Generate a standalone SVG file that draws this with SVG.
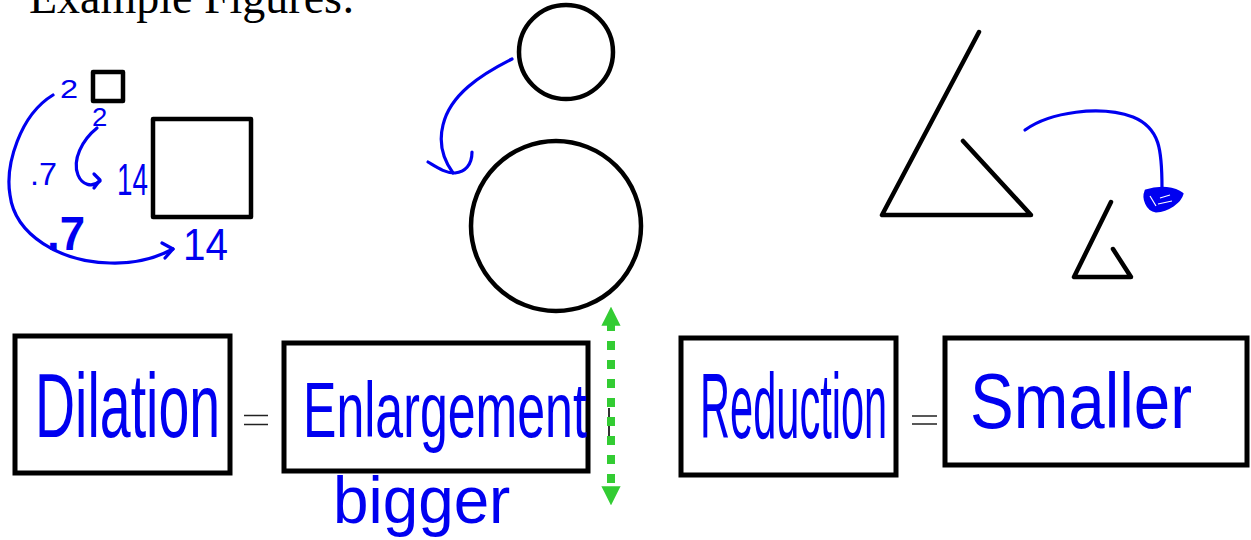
<svg xmlns="http://www.w3.org/2000/svg" width="1251" height="540" viewBox="0 0 1251 540">
<style>
.shape{fill:none;stroke:#000;stroke-width:4.5;stroke-linecap:round;stroke-linejoin:round}
.box{fill:#fff;stroke:#000;stroke-width:5}
.ink{fill:none;stroke:#0000f0;stroke-width:3.2;stroke-linecap:round;stroke-linejoin:round}
.hand{font-family:"Liberation Sans","DejaVu Sans",sans-serif;fill:#0000f0}
.eq{fill:none;stroke:#222;stroke-width:1.6}
</style>
<defs>
<marker id="gh" viewBox="0 0 10 10" refX="2" refY="5" markerWidth="2.4" markerHeight="2.4" orient="auto-start-reverse" markerUnits="strokeWidth">
<path d="M0,0 L10,5 L0,10 Z" fill="#33cc33"/>
</marker>
</defs>
<rect width="1251" height="540" fill="#fff"/>
<text x="29" y="13" font-family="Liberation Serif,serif" font-size="46" fill="#000">Example Figures:</text>

<g id="small-square"><rect class="shape" x="93" y="72" width="30" height="29"/></g>
<g id="large-square"><rect class="shape" x="153" y="119" width="98" height="98"/></g>
<g id="small-circle"><circle class="shape" cx="566" cy="52" r="47"/></g>
<g id="large-circle"><circle class="shape" cx="556" cy="226" r="85"/></g>
<g id="large-triangle"><path class="shape" d="M979,32 L882,215 L1031,215 L963,141"/></g>
<g id="small-triangle"><path class="shape" d="M1111,202 L1074,277 L1131,277 L1113,249"/></g>

<g id="labels">
<text class="hand" transform="translate(60,98) scale(1.3,1)" font-size="25">2</text>
<text class="hand" transform="translate(92,126) scale(1.1,1)" font-size="25">2</text>
<text class="hand" x="30" y="185" font-size="32" textLength="27" lengthAdjust="spacingAndGlyphs">.7</text>
<text class="hand" x="117" y="195" font-size="44" textLength="31" lengthAdjust="spacingAndGlyphs">14</text>
<text class="hand" x="47" y="250" font-size="48" font-weight="bold" textLength="38" lengthAdjust="spacingAndGlyphs">.7</text>
<text class="hand" x="183" y="260" font-size="44" textLength="45" lengthAdjust="spacingAndGlyphs">14</text>
</g>

<g id="dilation"><rect class="box" x="15" y="336" width="215" height="137"/>
<text class="hand" transform="translate(35,437) scale(0.617,1)" font-size="90">Dilation</text></g>
<g id="eq1"><path class="eq" d="M244,415.5 H268 M244,424.5 H268"/></g>
<g id="enlargement"><rect class="box" x="284" y="343" width="304" height="128"/>
<text class="hand" transform="translate(303,437) scale(0.642,1)" font-size="78">Enlargement</text></g>
<g id="bigger"><text class="hand" transform="translate(333,523) scale(0.967,1)" font-size="66">bigger</text></g>
<g id="reduction"><rect class="box" x="681" y="338" width="215" height="137"/>
<text class="hand" transform="translate(700,438) scale(0.452,1)" font-size="92">Reduction</text></g>
<g id="eq2"><path class="eq" d="M912,416 H937 M912,424 H937"/></g>
<g id="smaller"><rect class="box" x="945" y="338" width="302" height="127"/>
<text class="hand" transform="translate(970,428) scale(0.84,1)" font-size="78">Smaller</text></g>

<g id="connectors">
<path class="ink" d="M53,95 C20,115 5,165 10,195 C15,235 60,262 110,263 C140,264 160,256 173,249"/>
<path class="ink" d="M162,243 L173,249 L165,258"/>
<path class="ink" d="M97,128 C82,140 72,160 78,175 C82,185 92,188 100,181"/>
<path class="ink" d="M94,174 L100,180 L94,188"/>
<path class="ink" stroke-width="3.6" d="M512,59 C480,75 450,95 443,125 C438,145 445,162 453,173"/>
<path class="ink" stroke-width="3.6" d="M428,162 C438,168 445,173 455,173 C465,172 472,165 472,152"/>
<path class="ink" stroke-width="3.6" d="M1025,130 C1050,112 1100,105 1133,117 C1160,128 1162,150 1162,188"/>
<path d="M1146,191 C1160,186 1175,188 1182,194 C1180,202 1168,210 1156,211 C1147,210 1143,198 1146,191 Z" fill="#0000f0" stroke="#0000f0" stroke-width="3"/>
<path d="M1150,196 L1156,206 M1160,198 L1170,195 M1158,204 L1172,201" stroke="#fff" stroke-width="1.2" fill="none"/>
<line x1="609" y1="408" x2="609" y2="437" stroke="#333" stroke-width="2"/>
<line x1="611" y1="322" x2="611" y2="490" stroke="#33cc33" stroke-width="8" stroke-dasharray="9 10" marker-start="url(#gh)" marker-end="url(#gh)"/>
</g>
</svg>
